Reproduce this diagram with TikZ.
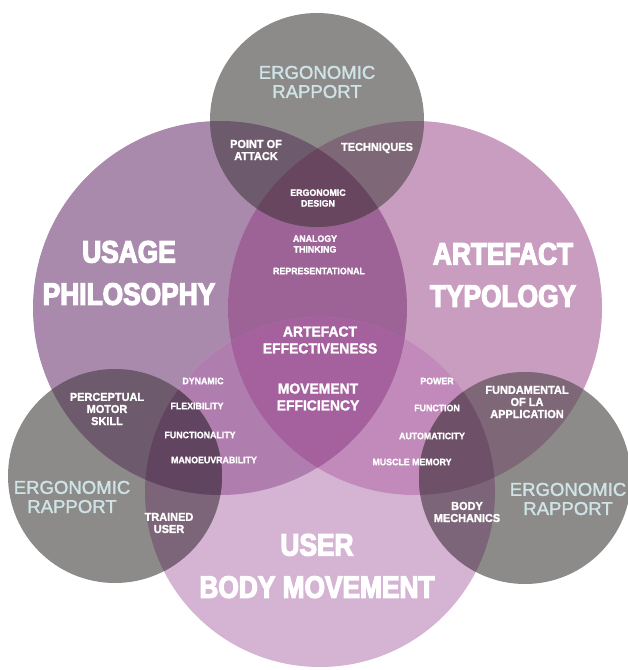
\documentclass[tikz,border=0pt]{standalone}
\usepackage{fontspec}
\setmainfont{Liberation Sans}[BoldFont={* Bold}]
\newfontfamily\condfont{Liberation Sans}[UprightFont={* Bold},FakeStretch=0.85,FakeBold=4]
\newfontfamily\heavyfont{Liberation Sans}[UprightFont={* Bold},FakeStretch=0.95,FakeBold=1.5]
\newfontfamily\rapfont{Liberation Sans}[FakeBold=1.5]

\definecolor{usagecol}{HTML}{A98AAD}
\definecolor{typecol}{HTML}{C99DC0}
\definecolor{usercol}{HTML}{D4B3D3}
\definecolor{lenscol}{HTML}{9E6396}
\definecolor{corecol}{HTML}{A5609E}
\definecolor{usageusercol}{HTML}{B07DAF}
\definecolor{typeusercol}{HTML}{C28ABB}
\definecolor{greycol}{HTML}{8D8B8A}
\definecolor{greyusagecol}{HTML}{6D5A6C}
\definecolor{greytypecol}{HTML}{7E6878}
\definecolor{greylenscol}{HTML}{694660}
\definecolor{greyusercol}{HTML}{7D6579}
\definecolor{greyusageusercol}{HTML}{614460}
\definecolor{greytypeusercol}{HTML}{6E5068}
\definecolor{rapportcol}{HTML}{CFE4E6}

\begin{document}
\begin{tikzpicture}[x=0.025cm,y=-0.025cm,
    big/.style={font=\condfont\fontsize{22}{30}\selectfont,text=white,align=center},
    mid/.style={font=\heavyfont\fontsize{10.4}{12}\selectfont,text=white,align=center},
    lbl/.style={font=\heavyfont\fontsize{8.2}{8.6}\selectfont,text=white,align=center},
    small/.style={font=\heavyfont\fontsize{6.6}{7.6}\selectfont,text=white,align=center},
    rapport/.style={font=\rapfont\fontsize{13.2}{13.6}\selectfont,text=rapportcol,align=center}]
  \useasboundingbox (0,0) rectangle (628,670);
  \coordinate (cU) at (220,308);
  \coordinate (cA) at (415,308);
  \coordinate (cB) at (320,492);
  \coordinate (gT) at (317,120);
  \coordinate (gL) at (115,476);
  \coordinate (gR) at (525,478);
  % big circles
  \fill[usagecol] (cU) circle (187);
  \fill[typecol] (cA) circle (187);
  \fill[usercol] (cB) circle (175);
  \begin{scope}
    \clip (cA) circle (187);
    \fill[typeusercol] (cB) circle (175);
  \end{scope}
  \begin{scope}
    \clip (cU) circle (187);
    \fill[lenscol] (cA) circle (187);
    \fill[usageusercol] (cB) circle (175);
    \clip (cA) circle (187);
    \fill[corecol] (cB) circle (175);
  \end{scope}
  % grey circles
  \fill[greycol] (gT) circle (107);
  \begin{scope}
    \clip (gT) circle (107);
    \fill[greyusagecol] (cU) circle (187);
    \fill[greytypecol] (cA) circle (187);
    \clip (cU) circle (187);
    \fill[greylenscol] (cA) circle (187);
  \end{scope}
  \fill[greycol] (gL) circle (107);
  \begin{scope}
    \clip (gL) circle (107);
    \fill[greyusagecol] (cU) circle (187);
    \fill[greyusercol] (cB) circle (175);
    \clip (cU) circle (187);
    \fill[greyusageusercol] (cB) circle (175);
  \end{scope}
  \fill[greycol] (gR) circle (106);
  \begin{scope}
    \clip (gR) circle (106);
    \fill[greytypecol] (cA) circle (187);
    \fill[greyusercol] (cB) circle (175);
    \clip (cA) circle (187);
    \fill[greytypeusercol] (cB) circle (175);
  \end{scope}
  % labels
  \node[big] (usage) at (129,273) {USAGE\\PHILOSOPHY};
  \node[big] (artefact) at (503,275) {ARTEFACT\\TYPOLOGY};
  \node[big] (user) at (317,566) {USER\\BODY MOVEMENT};
  \node[rapport] (rapT) at (317,82) {ERGONOMIC\\RAPPORT};
  \node[rapport] (rapL) at (72,497) {ERGONOMIC\\RAPPORT};
  \node[rapport] (rapR) at (568,499) {ERGONOMIC\\RAPPORT};
  \node[lbl] (attack) at (256,150) {POINT OF\\ATTACK};
  \node[lbl] (techniques) at (377,148) {TECHNIQUES};
  \node[small] (ergdesign) at (318,198) {ERGONOMIC\\DESIGN};
  \node[small] (analogy) at (315,244) {ANALOGY\\THINKING};
  \node[small] (represent) at (319,271) {REPRESENTATIONAL};
  \node[mid] (effect) at (320,340) {ARTEFACT\\EFFECTIVENESS};
  \node[mid] (efficiency) at (318,397) {MOVEMENT\\EFFICIENCY};
  \node[lbl] (perceptual) at (107,409) {PERCEPTUAL\\MOTOR\\SKILL};
  \node[small] (dynamic) at (203,381) {DYNAMIC};
  \node[small] (flexibility) at (197,406) {FLEXIBILITY};
  \node[small] (functionality) at (200,435) {FUNCTIONALITY};
  \node[small] (manoeuvre) at (214,460) {MANOEUVRABILITY};
  \node[lbl] (trained) at (169,523) {TRAINED\\USER};
  \node[small] (power) at (437,381) {POWER};
  \node[small] (function) at (437,408) {FUNCTION};
  \node[small] (automatic) at (432,436) {AUTOMATICITY};
  \node[small] (muscle) at (412,462) {MUSCLE MEMORY};
  \node[lbl] (fundamental) at (527,402) {FUNDAMENTAL\\OF LA\\APPLICATION};
  \node[lbl] (bodymech) at (467,512) {BODY\\MECHANICS};
\end{tikzpicture}
\end{document}
